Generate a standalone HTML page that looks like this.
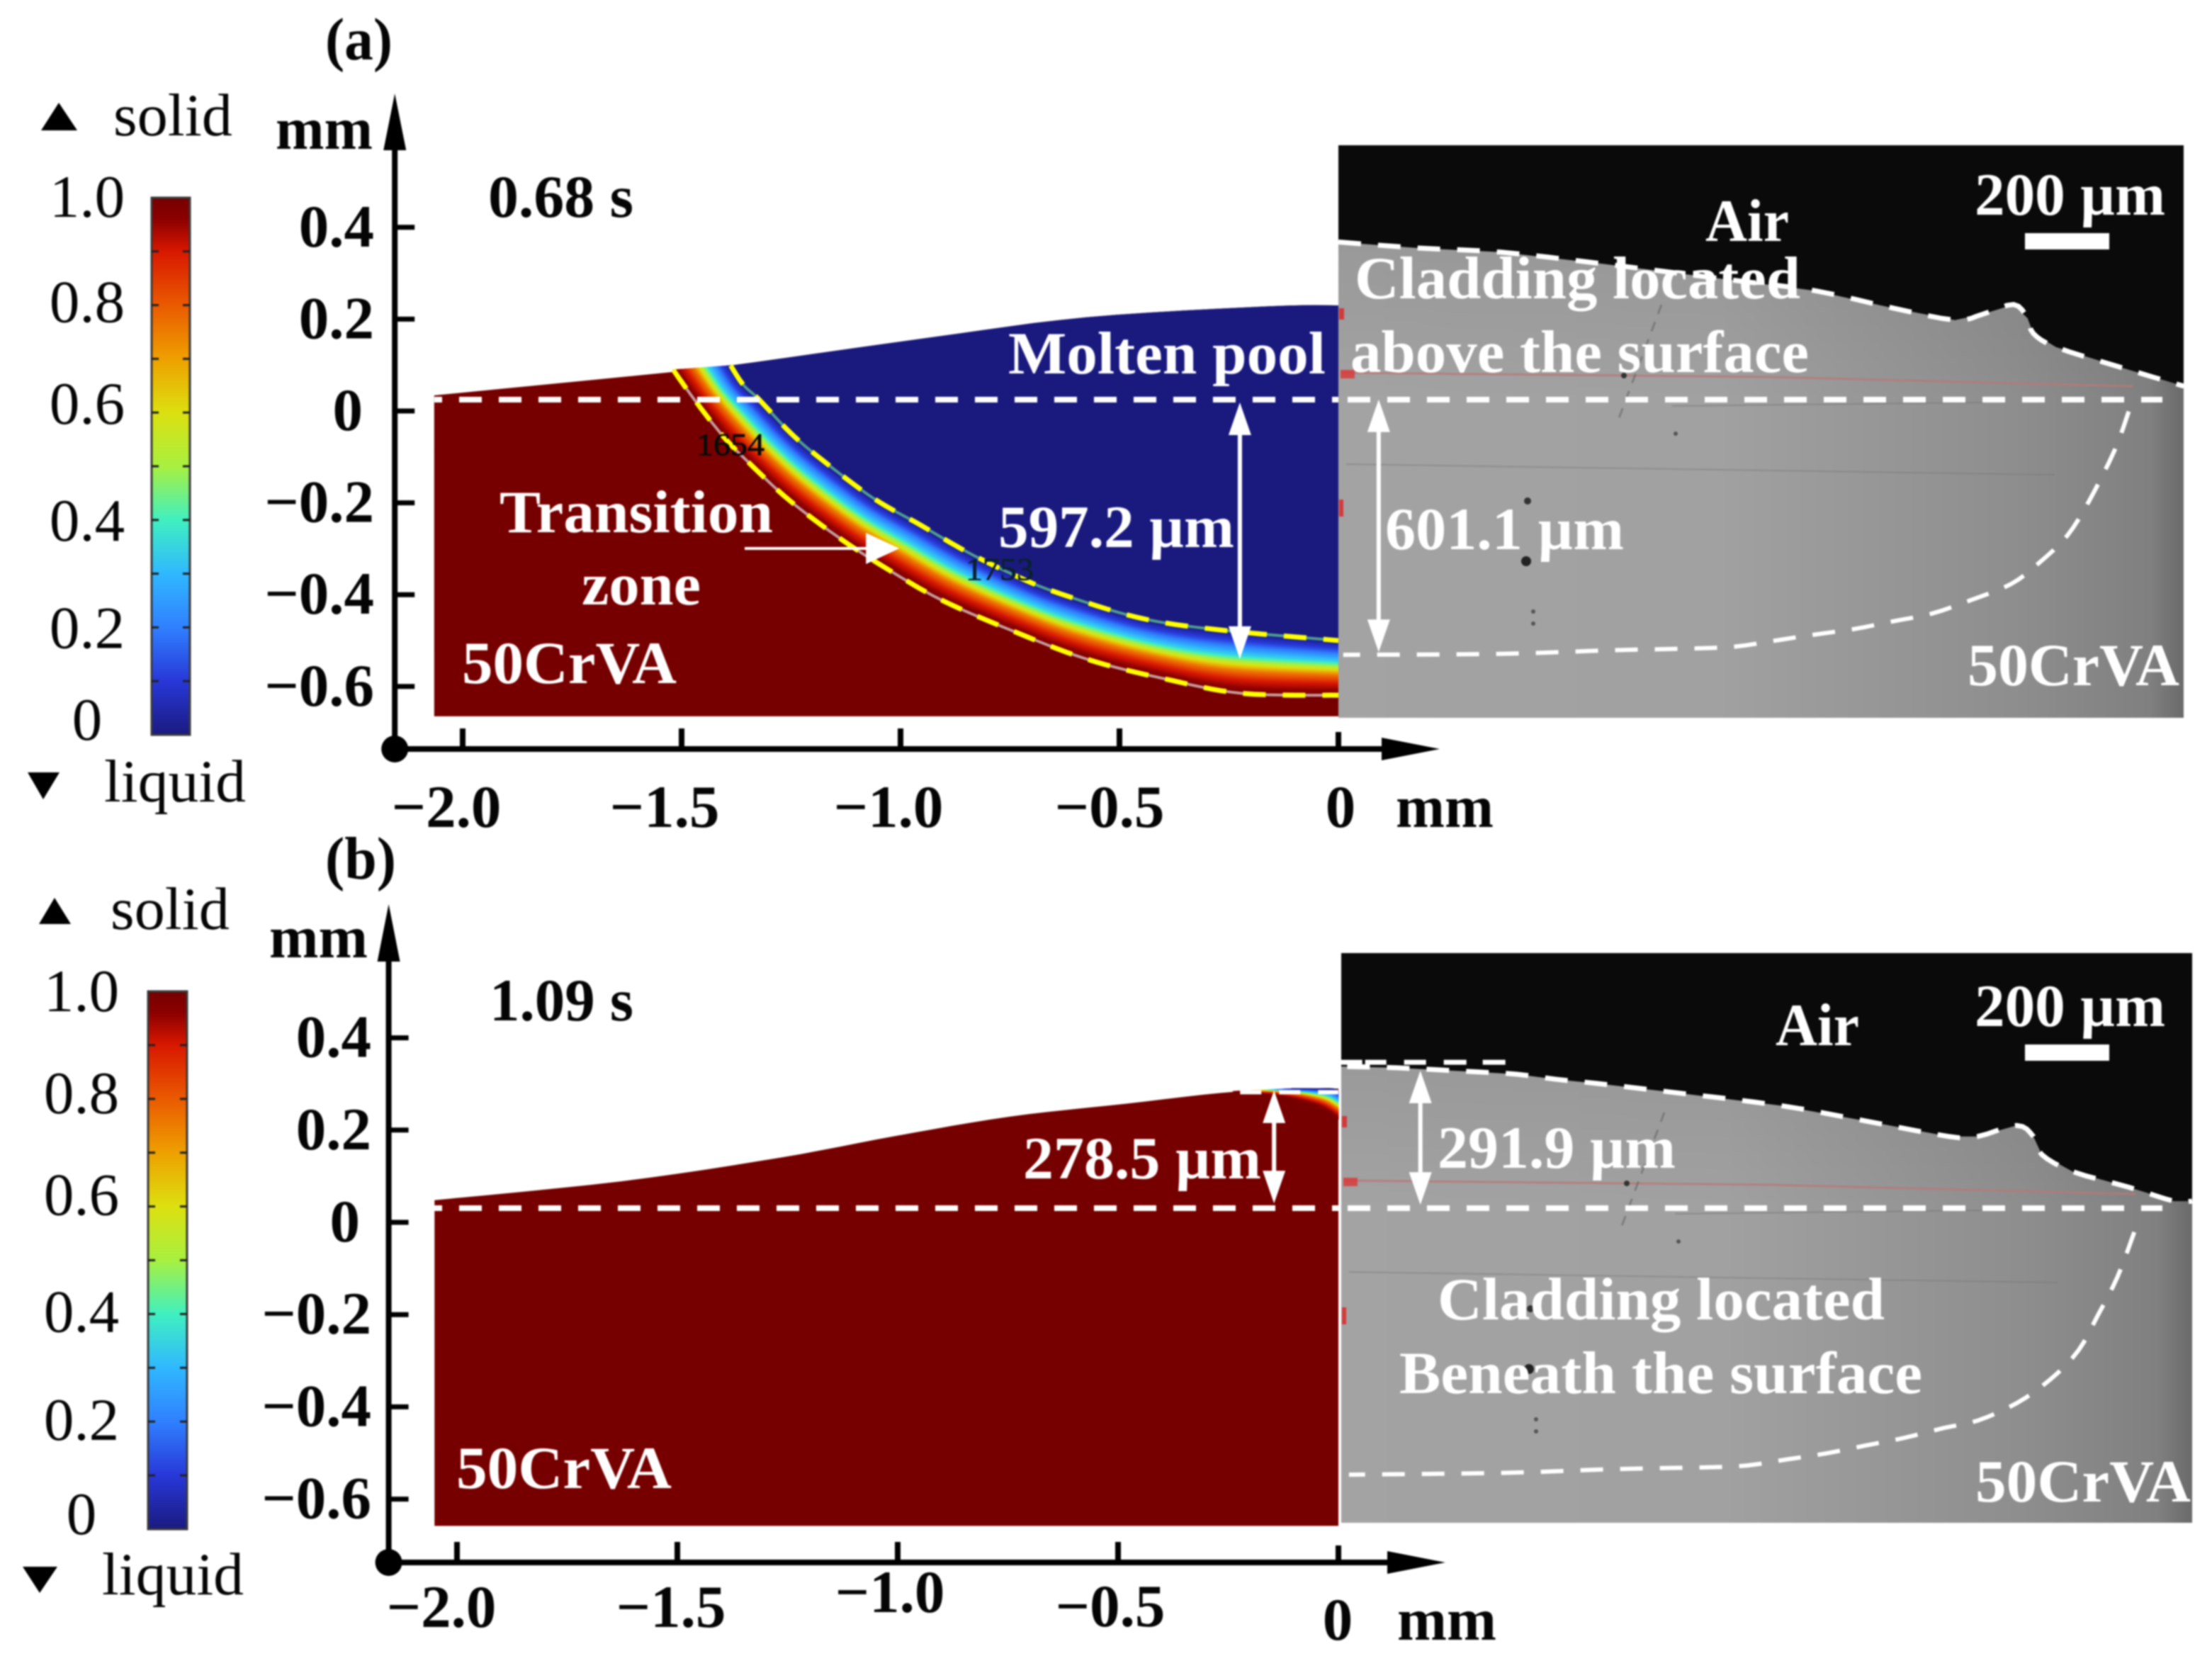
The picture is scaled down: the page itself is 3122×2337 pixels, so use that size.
<!DOCTYPE html>
<html lang="en">
<head>
<meta charset="utf-8">
<title>Cladding melt pool simulation vs experiment</title>
<style>
html,body{margin:0;padding:0;background:#fff;width:3122px;height:2337px;overflow:hidden}
svg{display:block;filter:blur(1.1px)}
text{font-family:"Liberation Serif",serif}
.b{font-weight:bold;font-size:85px}
.r{font-size:85px}
.k{fill:#050505}
.w{fill:#fff}
</style>
</head>
<body>
<svg id="fig" xmlns="http://www.w3.org/2000/svg" width="3122" height="2337" viewBox="0 0 3122 2337">
<defs>
<linearGradient id="cbarGrad" x1="0" y1="1" x2="0" y2="0"></linearGradient>
<linearGradient id="photoGrad" x1="0" y1="0" x2="1" y2="0">
<stop offset="0" stop-color="#a3a3a3"/><stop offset=".45" stop-color="#a1a1a1"/><stop offset=".8" stop-color="#8e8e8e"/><stop offset=".96" stop-color="#808080"/><stop offset="1" stop-color="#6a6a6a"/>
</linearGradient>
<linearGradient id="photoShade" x1="0" y1="0" x2="0" y2="1">
<stop offset="0" stop-color="#000" stop-opacity=".1"/><stop offset=".45" stop-color="#000" stop-opacity="0"/><stop offset="1" stop-color="#000" stop-opacity="0"/>
</linearGradient>
</defs>
<g id="layer-sim"></g>
<g id="layer-photo"></g>
<g id="layer-axes"></g>
<g id="layer-text">
<text class="b k" x="459" y="84" font-size="80" textLength="95" lengthAdjust="spacingAndGlyphs">(a)</text>
<text class="r k" x="160" y="191" textLength="168" lengthAdjust="spacingAndGlyphs">solid</text>
<text class="r k" x="147" y="1131" textLength="200" lengthAdjust="spacingAndGlyphs">liquid</text>
<text class="b k" x="389" y="210" textLength="137" lengthAdjust="spacingAndGlyphs">mm</text>
<text class="b k" x="1970" y="1167" textLength="138" lengthAdjust="spacingAndGlyphs">mm</text>
<text class="b k" x="689" y="306" textLength="205" lengthAdjust="spacingAndGlyphs">0.68 s</text>
<text class="b w" x="705" y="751" textLength="386" lengthAdjust="spacingAndGlyphs">Transition</text>
<text class="b w" x="821" y="853" textLength="168" lengthAdjust="spacingAndGlyphs">zone</text>
<text class="b w" x="652" y="964" textLength="303" lengthAdjust="spacingAndGlyphs">50CrVA</text>
<text class="b w" x="1423" y="527" textLength="448" lengthAdjust="spacingAndGlyphs">Molten pool</text>
<text class="b w" x="1409" y="772" textLength="333" lengthAdjust="spacingAndGlyphs">597.2 µm</text>
<text x="983" y="642" font-size="44" fill="#0a0a0a" stroke="#0a0a0a" stroke-width=".8" textLength="96" lengthAdjust="spacingAndGlyphs">1654</text>
<text x="1363" y="818" font-size="44" fill="#0a2030" stroke="#0a2030" stroke-width=".8" textLength="96" lengthAdjust="spacingAndGlyphs">1753</text>
<text class="b w" x="2407" y="340" textLength="118" lengthAdjust="spacingAndGlyphs">Air</text>
<text class="b w" x="2787" y="303" textLength="269" lengthAdjust="spacingAndGlyphs">200 µm</text>
<text class="b w" x="1912" y="421" textLength="629" lengthAdjust="spacingAndGlyphs">Cladding located</text>
<text class="b w" x="1906" y="525" textLength="647" lengthAdjust="spacingAndGlyphs">above the surface</text>
<text class="b w" x="1955" y="775" textLength="337" lengthAdjust="spacingAndGlyphs">601.1 µm</text>
<text class="b w" x="2777" y="967" textLength="299" lengthAdjust="spacingAndGlyphs">50CrVA</text>

<text class="b k" x="459" y="1240" font-size="80" textLength="100" lengthAdjust="spacingAndGlyphs">(b)</text>
<text class="r k" x="156" y="1311" textLength="168" lengthAdjust="spacingAndGlyphs">solid</text>
<text class="r k" x="144" y="2250" textLength="200" lengthAdjust="spacingAndGlyphs">liquid</text>
<text class="b k" x="380" y="1351" textLength="139" lengthAdjust="spacingAndGlyphs">mm</text>
<text class="b k" x="1972" y="2314" textLength="140" lengthAdjust="spacingAndGlyphs">mm</text>
<text class="b k" x="691" y="1440" textLength="203" lengthAdjust="spacingAndGlyphs">1.09 s</text>
<text class="b w" x="644" y="2100" textLength="304" lengthAdjust="spacingAndGlyphs">50CrVA</text>
<text class="b w" x="1444" y="1663" textLength="336" lengthAdjust="spacingAndGlyphs">278.5 µm</text>
<text class="b w" x="2506" y="1475" textLength="118" lengthAdjust="spacingAndGlyphs">Air</text>
<text class="b w" x="2787" y="1448" textLength="269" lengthAdjust="spacingAndGlyphs">200 µm</text>
<text class="b w" x="2029" y="1648" textLength="336" lengthAdjust="spacingAndGlyphs">291.9 µm</text>
<text class="b w" x="2029" y="1862" textLength="631" lengthAdjust="spacingAndGlyphs">Cladding located</text>
<text class="b w" x="1975" y="1966" textLength="738" lengthAdjust="spacingAndGlyphs">Beneath the surface</text>
<text class="b w" x="2788" y="2119" textLength="304" lengthAdjust="spacingAndGlyphs">50CrVA</text>
</g>
</svg>
<script>
// ---------- chart data (all in mm or fraction solid) ----------
const xTicks = [-2, -1.5, -1, -0.5, 0];
const xTickLabels = ['\u22122.0', '\u22121.5', '\u22121.0', '\u22120.5', '0'];
const yTicks = [0.4, 0.2, 0, -0.2, -0.4, -0.6];
const yTickLabels = ['0.4', '0.2', '0', '\u22120.2', '\u22120.4', '\u22120.6'];
const cbarLabelValues = [1, 0.8, 0.6, 0.4, 0.2, 0];
const cbarTickLabels = ['1.0', '0.8', '0.6', '0.4', '0.2', '0'];
const cbarMinorTicks = [0.9, 0.8, 0.7, 0.6, 0.5, 0.4, 0.3, 0.2, 0.1];
const colormapValues = [0, 0.1, 0.2, 0.3, 0.4, 0.5, 0.6, 0.7, 0.8, 0.9, 0.96, 1];
const colormapColors = ['#1a1a80', '#2838d8', '#3080ff', '#30b8ff', '#40f0c0', '#a8f040', '#dde010', '#eea000', '#ea5a00', '#d81800', '#8c0000', '#760000'];
// fraction solid across the transition zone: position from solidus (0) to liquidus (1)
const bandPositions = [0, 0.07, 0.22, 0.38, 0.47, 0.53, 0.62, 0.84, 1];
const bandSolidFractions = [1, 0.97, 0.9, 0.75, 0.6, 0.5, 0.35, 0.12, 0];

const aSurfaceX = [-2.065, -1.519, -1.388, -0.932, -0.576, -0.16, 0];
const aSurfaceY = [0.034, 0.085, 0.099, 0.16, 0.204, 0.228, 0.23];
const aBlockBottom = -0.665;
const aSolidusX = [-1.519, -1.471, -1.406, -1.347, -1.252, -1.133, -1.027, -0.908, -0.754, -0.576, -0.398, -0.22, 0];
const aSolidusY = [0.0895, 0.025, -0.054, -0.112, -0.196, -0.281, -0.346, -0.411, -0.475, -0.54, -0.583, -0.615, -0.619];
const aLiquidusX = [-1.388, -1.359, -1.323, -1.252, -1.181, -1.062, -0.955, -0.848, -0.73, -0.635, -0.457, -0.279, 0];
const aLiquidusY = [0.099, 0.057, 0.025, -0.047, -0.105, -0.19, -0.248, -0.307, -0.362, -0.398, -0.45, -0.476, -0.5];
const aReferenceY = 0.0247;
const aPhotoSurfaceX = [0, 0.181, 0.37, 0.6, 0.883, 1.088, 1.267, 1.408, 1.472, 1.542, 1.574, 1.587, 1.639, 1.78, 1.931];
const aPhotoSurfaceY = [0.368, 0.355, 0.346, 0.321, 0.287, 0.262, 0.224, 0.198, 0.211, 0.232, 0.202, 0.169, 0.139, 0.097, 0.054];
const aPhotoPoolX = [1.805, 1.773, 1.715, 1.664, 1.6, 1.536, 1.447, 1.356, 1.267, 1.177, 1.087, 0.998, 0.908, 0.818, 0.626, 0.37, 0.011];
const aPhotoPoolY = [-0.001, -0.085, -0.195, -0.272, -0.331, -0.377, -0.411, -0.441, -0.458, -0.475, -0.487, -0.5, -0.513, -0.517, -0.521, -0.529, -0.531];
const aSimDepthArrow = [-0.225, 0.0185, -0.54];
const aPhotoDepthArrow = [0.092, 0.025, -0.525];

const bSurfaceX = [-2.051, -1.627, -1.268, -1.006, -0.746, -0.484, -0.223, 0];
const bSurfaceY = [0.048, 0.089, 0.14, 0.187, 0.229, 0.257, 0.284, 0.29];
const bBlockBottom = -0.658;
const bSolidusX = [-0.24, -0.136, -0.048, 0];
const bSolidusY = [0.284, 0.274, 0.252, 0.224];
const bLiquidusX = [-0.101, -0.048, -0.014, 0];
const bLiquidusY = [0.29, 0.29, 0.29, 0.286];
const bReferenceY = 0.0307;
const bPhotoSurfaceX = [0.007, 0.133, 0.317, 0.405, 0.495, 0.587, 0.749, 1.004, 1.195, 1.386, 1.45, 1.539, 1.577, 1.596, 1.666, 1.794, 1.896, 1.937];
const bPhotoSurfaceY = [0.338, 0.335, 0.326, 0.321, 0.31, 0.301, 0.283, 0.253, 0.22, 0.186, 0.186, 0.21, 0.186, 0.147, 0.11, 0.076, 0.046, 0.046];
const bPhotoFlatDashX = [0.006, 0.38];
const bPhotoFlatDashY = [0.347, 0.347];
const bSimTopDashX = [-0.223, 0];
const bSimTopDashY = [0.282, 0.282];
const bPhotoPoolX = [1.806, 1.768, 1.723, 1.679, 1.615, 1.539, 1.45, 1.373, 1.285, 1.195, 1.106, 1.017, 0.928, 0.838, 0.622, 0.38, 0.024];
const bPhotoPoolY = [-0.021, -0.118, -0.202, -0.278, -0.341, -0.392, -0.43, -0.446, -0.467, -0.484, -0.501, -0.514, -0.527, -0.531, -0.535, -0.543, -0.547];
const bSimDepthArrow = [-0.146, 0.286, 0.041];
const bPhotoDepthArrow = [0.186, 0.329, 0.038];

// ---------- helpers ----------
const NS = 'http://www.w3.org/2000/svg';
const simLayer = document.getElementById('layer-sim');
const photoLayer = document.getElementById('layer-photo');
const axesLayer = document.getElementById('layer-axes');
function make(parent, tag, attrs, text) {
  const el = document.createElementNS(NS, tag);
  for (const k in attrs) el.setAttribute(k, attrs[k]);
  if (text !== undefined) el.textContent = text;
  parent.appendChild(el);
  return el;
}
function hexRgb(h) { return [1, 3, 5].map(i => parseInt(h.substr(i, 2), 16)); }
function colormap(v) {
  for (let i = 1; i < colormapValues.length; i++) {
    if (v <= colormapValues[i]) {
      const t = (v - colormapValues[i - 1]) / (colormapValues[i] - colormapValues[i - 1]);
      const a = hexRgb(colormapColors[i - 1]), b = hexRgb(colormapColors[i]);
      return 'rgb(' + a.map((c, j) => Math.round(c + (b[j] - c) * t)).join(',') + ')';
    }
  }
  return colormapColors[colormapColors.length - 1];
}
function bandValue(t) {
  for (let i = 1; i < bandPositions.length; i++) {
    if (t <= bandPositions[i]) {
      const f = (t - bandPositions[i - 1]) / (bandPositions[i] - bandPositions[i - 1]);
      return bandSolidFractions[i - 1] + (bandSolidFractions[i] - bandSolidFractions[i - 1]) * f;
    }
  }
  return 0;
}
function smooth(xs, ys, steps) {
  const out = [];
  const n = xs.length;
  for (let i = 0; i < n - 1; i++) {
    const i0 = Math.max(0, i - 1), i3 = Math.min(n - 1, i + 2);
    for (let s = 0; s < steps; s++) {
      const t = s / steps, t2 = t * t, t3 = t2 * t;
      const cr = a => 0.5 * (2 * a[i] + (a[i + 1] - a[i0]) * t + (2 * a[i0] - 5 * a[i] + 4 * a[i + 1] - a[i3]) * t2 + (3 * a[i] - a[i0] - 3 * a[i + 1] + a[i3]) * t3);
      out.push([cr(xs), cr(ys)]);
    }
  }
  out.push([xs[n - 1], ys[n - 1]]);
  return out;
}
function toPts(list, sx, sy) {
  return list.map(p => sx(p[0]).toFixed(1) + ',' + sy(p[1]).toFixed(1)).join(' ');
}
function linePts(xs, ys, sx, sy) {
  return xs.map((x, i) => sx(x).toFixed(1) + ',' + sy(ys[i]).toFixed(1)).join(' ');
}

// colour bar gradient from the colormap arrays
const cbarGrad = document.getElementById('cbarGrad');
colormapValues.forEach((v, i) => {
  make(cbarGrad, 'stop', { offset: v, 'stop-color': colormapColors[i] });
});

// ---------- panel renderer ----------
function drawPanel(p) {
  const sx = mm => p.x0 + p.xs * mm;
  const sy = mm => p.y0 - p.ys * mm;
  const surface = smooth(p.surfX, p.surfY, 6);

  // solid block
  const block = make(simLayer, 'polygon', {
    points: toPts(surface, sx, sy) + ' ' + sx(0) + ',' + sy(p.bottom) + ' ' + sx(p.surfX[0]) + ',' + sy(p.bottom),
    fill: '#760000'
  });
  
  

  const outer = smooth(p.solX, p.solY, 8);
  const inner = smooth(p.liqX, p.liqY, 8);

  // liquid region above liquidus
  if (p.hasPool) {
    const top = surface.filter(pt => pt[0] > p.liqX[0]).reverse();
    const pool = make(simLayer, 'polygon', {
      points: toPts(inner, sx, sy) + ' ' + toPts(top, sx, sy),
      fill: '#1a1a7e'
    });
    
    
  }

  // transition-zone colour bands
  const bandGroup = make(simLayer, 'g', {});
  
  
  const bands = 60;
  for (let b = 0; b < bands; b++) {
    const t0 = b / bands, t1 = (b + 1) / bands;
    const mix = (t) => outer.map((o, i) => [o[0] + (inner[i][0] - o[0]) * t, o[1] + (inner[i][1] - o[1]) * t]);
    const col = colormap(bandValue((t0 + t1) / 2));
    make(bandGroup, 'polygon', {
      points: toPts(mix(t0), sx, sy) + ' ' + toPts(mix(t1).reverse(), sx, sy),
      fill: col, stroke: col, 'stroke-width': 1
    });
  }

  // contour lines
  if (p.hasPool) {
    const s1 = make(simLayer, 'polyline', { points: toPts(outer, sx, sy), fill: 'none', stroke: '#c89a9a', 'stroke-width': 4 });
    
    
    const s2 = make(simLayer, 'polyline', { points: toPts(outer, sx, sy), fill: 'none', stroke: '#ffff00', 'stroke-width': 7, 'stroke-dasharray': '32 24' });
    
    
    const l1 = make(simLayer, 'polyline', { points: toPts(inner, sx, sy), fill: 'none', stroke: '#4f9c90', 'stroke-width': 4 });
    
    
    const l2 = make(simLayer, 'polyline', { points: toPts(inner, sx, sy), fill: 'none', stroke: '#ffff00', 'stroke-width': 7, 'stroke-dasharray': '32 24' });
    
    
  }
  if (p.topDashX) {
    const td = make(simLayer, 'polyline', { points: linePts(p.topDashX, p.topDashY, sx, sy), fill: 'none', stroke: '#fff', 'stroke-width': 6, 'stroke-dasharray': '30 25' });
    
    
  }

  // micrograph
  const px0 = p.photo[0], py0 = p.photo[1], pw = p.photo[2], ph = p.photo[3];
  const gray = make(photoLayer, 'rect', { x: px0, y: py0, width: pw, height: ph, fill: 'url(#photoGrad)' });
  
  
  const shade = make(photoLayer, 'rect', { x: px0, y: py0, width: pw, height: ph, fill: 'url(#photoShade)' });
  
  
  const airPts = px0 + ',' + py0 + ' ' + (px0 + pw) + ',' + py0 + ' ' + (px0 + pw) + ',' + sy(p.phSurfY[p.phSurfY.length - 1]).toFixed(1) + ' ' +
    p.phSurfX.slice().reverse().map((x, i) => sx(x).toFixed(1) + ',' + sy(p.phSurfY[p.phSurfY.length - 1 - i]).toFixed(1)).join(' ') + ' ' + px0 + ',' + sy(p.phSurfY[0]).toFixed(1);
  const air = make(photoLayer, 'polygon', { points: airPts, fill: '#0a0a0a' });
  
  

  // micrograph texture
  const tex = make(photoLayer, 'g', {});
  
  
  const dy = py0 - 205, dx = px0 - 1889;
  make(tex, 'polyline', { points: (1892 + dx) + ',' + (526 + dy) + ' 2500,' + (532 + dy) + ' ' + (3010 + dx) + ',' + (545 + dy), fill: 'none', stroke: '#b87878', 'stroke-width': 3, opacity: .8 });
  make(tex, 'polyline', { points: (2345 + dx) + ',' + (430 + dy) + ' ' + (2285 + dx) + ',' + (590 + dy), fill: 'none', stroke: '#666', 'stroke-width': 3, 'stroke-dasharray': '14 12', opacity: .6 });
  make(tex, 'line', { x1: 1900 + dx, y1: 655 + dy, x2: 2900 + dx, y2: 670 + dy, stroke: '#777', 'stroke-width': 2, opacity: .45 });
  make(tex, 'line', { x1: 2360 + dx, y1: 573 + dy, x2: 2800 + dx, y2: 568 + dy, stroke: '#777', 'stroke-width': 2, opacity: .5 });
  make(tex, 'circle', { cx: 2154 + dx, cy: 792 + dy, r: 7, fill: '#222' });
  make(tex, 'circle', { cx: 2156 + dx, cy: 707 + dy, r: 5, fill: '#333' });
  make(tex, 'circle', { cx: 2292 + dx, cy: 530 + dy, r: 4, fill: '#333' });
  make(tex, 'circle', { cx: 2365 + dx, cy: 612 + dy, r: 3, fill: '#555' });
  make(tex, 'circle', { cx: 2164 + dx, cy: 863 + dy, r: 3, fill: '#555' });
  make(tex, 'circle', { cx: 2164 + dx, cy: 880 + dy, r: 3, fill: '#555' });
  make(tex, 'rect', { x: 1890 + dx, y: 435 + dy, width: 7, height: 16, fill: '#e02020', opacity: .8 });
  make(tex, 'rect', { x: 1892 + dx, y: 522 + dy, width: 20, height: 12, fill: '#e03030', opacity: .75 });
  make(tex, 'rect', { x: 1890 + dx, y: 705 + dy, width: 6, height: 24, fill: '#e02020', opacity: .8 });

  const surfDash = make(photoLayer, 'polyline', { points: toPts(smooth(p.phSurfX, p.phSurfY, 4), sx, sy), fill: 'none', stroke: '#fff', 'stroke-width': 7, 'stroke-dasharray': '32 24', 'stroke-dashoffset': p.surfDashOffset });
  
  
  if (p.flatDashX) {
    const fd = make(photoLayer, 'polyline', { points: linePts(p.flatDashX, p.flatDashY, sx, sy), fill: 'none', stroke: '#fff', 'stroke-width': 7, 'stroke-dasharray': '30 4 30 25 31 25 32 23 32 100' });
    
    
  }
  const poolDash = make(photoLayer, 'polyline', { points: toPts(smooth(p.phPoolX, p.phPoolY, 4), sx, sy), fill: 'none', stroke: '#fff', 'stroke-width': 6, 'stroke-dasharray': '32 24' });
  
  

  // reference lines
  const ry = sy(p.refY);
  const ref1 = make(photoLayer, 'line', { x1: 613, y1: ry, x2: sx(0), y2: ry, stroke: '#fff', 'stroke-width': 8, 'stroke-dasharray': '32 24', 'stroke-dashoffset': 21 });
  
  
  const ref2 = make(photoLayer, 'line', { x1: 1902, y1: ry, x2: 3052, y2: ry, stroke: '#fff', 'stroke-width': 8, 'stroke-dasharray': '32 24' });
  
  

  // depth arrows
  [p.simArrow, p.photoArrow].forEach((a) => {
    const g = make(photoLayer, 'g', {});
    
    
    const x = sx(a[0]), t = sy(a[1]), b = sy(a[2]);
    make(g, 'line', { x1: x, y1: t + 20, x2: x, y2: b - 20, stroke: '#fff', 'stroke-width': 6 });
    make(g, 'polygon', { points: x + ',' + t + ' ' + (x - 16) + ',' + (t + 46) + ' ' + (x + 16) + ',' + (t + 46), fill: '#fff' });
    make(g, 'polygon', { points: x + ',' + b + ' ' + (x - 16) + ',' + (b - 46) + ' ' + (x + 16) + ',' + (b - 46), fill: '#fff' });
  });

  // scale bar
  const bar = make(photoLayer, 'rect', { x: 2858, y: p.scaleY, width: 119, height: 23, fill: '#fff' });
  
  

  // axes
  const ax = sx(p.axisXmm);
  const yAxis = make(axesLayer, 'line', { x1: ax, y1: p.arrowBase, x2: ax, y2: p.axisY, stroke: '#000', 'stroke-width': 8 });
  
  
  const yHead = make(axesLayer, 'polygon', { points: ax + ',' + p.arrowTip + ' ' + (ax - 16) + ',' + p.arrowBase + ' ' + (ax + 16) + ',' + p.arrowBase, fill: '#000' });
  
  
  const xAxis = make(axesLayer, 'line', { x1: ax, y1: p.axisY, x2: p.xArrowBase, y2: p.axisY, stroke: '#000', 'stroke-width': 8 });
  
  
  const xHead = make(axesLayer, 'polygon', { points: p.xArrowTip + ',' + p.axisY + ' ' + p.xArrowBase + ',' + (p.axisY - 16) + ' ' + p.xArrowBase + ',' + (p.axisY + 16), fill: '#000' });
  
  
  const origin = make(axesLayer, 'circle', { cx: ax, cy: p.axisY, r: 19, fill: '#000' });
  
  

  xTicks.forEach((v, i) => {
    const x = sx(v);
    const tick = make(axesLayer, 'line', { x1: x, y1: p.axisY - (v === 0 ? 24 : 29), x2: x, y2: p.axisY, stroke: '#000', 'stroke-width': 8 });
    
    
    const label = make(axesLayer, 'text', { x: x + p.xLabelDx[i], y: p.xLabelBase[i], 'text-anchor': 'middle', class: 'b k' }, xTickLabels[i]);
    
    
  });
  yTicks.forEach((v, i) => {
    const y = sy(v);
    const tick = make(axesLayer, 'line', { x1: ax, y1: y, x2: ax + 28, y2: y, stroke: '#000', 'stroke-width': 7 });
    
    
    const label = make(axesLayer, 'text', { x: p.yLabelX - (v === 0 ? 16 : 0), y: y + 27, 'text-anchor': 'end', class: 'b k' }, yTickLabels[i]);
    
    
  });

  // colour bar
  const c = p.cbar;
  const cy = v => c.bottom - (c.bottom - c.top) * v;
  const rect = make(axesLayer, 'rect', { x: c.x, y: c.top, width: c.w, height: c.bottom - c.top, fill: 'url(#cbarGrad)', stroke: '#3a3a3a', 'stroke-width': 3 });
  
  
  cbarMinorTicks.forEach((v) => {
    const l = make(axesLayer, 'line', { x1: c.x, y1: cy(v), x2: c.x + 10, y2: cy(v), stroke: '#222', 'stroke-width': 3 });
    
    
    const r = make(axesLayer, 'line', { x1: c.x + c.w - 10, y1: cy(v), x2: c.x + c.w, y2: cy(v), stroke: '#222', 'stroke-width': 3 });
    
    
  });
  cbarLabelValues.forEach((v, i) => {
    const t = make(axesLayer, 'text', { x: c.labelX, y: cy(v) + c.labelDy[i], 'text-anchor': 'middle', class: 'r k' }, cbarTickLabels[i]);
    
    
  });
  const up = make(axesLayer, 'polygon', { points: p.triUp, fill: '#000' });
  
  
  const down = make(axesLayer, 'polygon', { points: p.triDown, fill: '#000' });
  
  
}

drawPanel({
  x0: 1889, xs: 618, y0: 580, ys: 648, axisXmm: -2.155, axisY: 1057,
  surfX: aSurfaceX, surfY: aSurfaceY, bottom: aBlockBottom,
  solX: aSolidusX, solY: aSolidusY, liqX: aLiquidusX, liqY: aLiquidusY, hasPool: true,
  refY: aReferenceY, phSurfX: aPhotoSurfaceX, phSurfY: aPhotoSurfaceY, phPoolX: aPhotoPoolX, phPoolY: aPhotoPoolY,
  simArrow: aSimDepthArrow, photoArrow: aPhotoDepthArrow, surfDashOffset: 0,
  photo: [1889, 205, 1193, 808], scaleY: 329,
  arrowTip: 132, arrowBase: 212, xArrowTip: 2032, xArrowBase: 1950,
  xLabelDx: [-23, -24, -17, -14, 3], xLabelBase: [1167, 1167, 1167, 1167, 1167], yLabelX: 528,
  cbar: { x: 214, w: 54, top: 279, bottom: 1037, labelX: 123, labelDy: [27, 24, 16, 29, 29, 7] },
  triUp: '83,145 58,184 109,184', triDown: '39,1090 84,1090 61,1128'
});
drawPanel({
  x0: 1889, xs: 622, y0: 1725, ys: 651, axisXmm: -2.155, axisY: 2205,
  surfX: bSurfaceX, surfY: bSurfaceY, bottom: bBlockBottom,
  solX: bSolidusX, solY: bSolidusY, liqX: bLiquidusX, liqY: bLiquidusY, hasPool: false,
  topDashX: bSimTopDashX, topDashY: bSimTopDashY,
  flatDashX: bPhotoFlatDashX, flatDashY: bPhotoFlatDashY,
  refY: bReferenceY, phSurfX: bPhotoSurfaceX, phSurfY: bPhotoSurfaceY, phPoolX: bPhotoPoolX, phPoolY: bPhotoPoolY,
  simArrow: bSimDepthArrow, photoArrow: bPhotoDepthArrow, surfDashOffset: 48,
  photo: [1893, 1345, 1201, 804], scaleY: 1474,
  arrowTip: 1276, arrowBase: 1357, xArrowTip: 2040, xArrowBase: 1958,
  xLabelDx: [-22, -9, -11, -11, -1], xLabelBase: [2296, 2296, 2275, 2295, 2314], yLabelX: 524,
  cbar: { x: 209, w: 55, top: 1399, bottom: 2158, labelX: 115, labelDy: [28, 20, 12, 25, 26, 7] },
  triUp: '77,1267 55,1304 100,1304', triDown: '32,2211 81,2211 56,2248'
});

// transition-zone pointer arrow in panel (a)
const transitionPointerX = [-1.356, -1.053];
const pointerG = make(photoLayer, 'g', {});


const px1 = 1889 + 618 * transitionPointerX[0], px2 = 1889 + 618 * transitionPointerX[1];
make(pointerG, 'line', { x1: px1, y1: 774, x2: px2, y2: 774, stroke: '#fff', 'stroke-width': 4 });
make(pointerG, 'polygon', { points: (px2 + 31) + ',774 ' + (px2 - 16) + ',752 ' + (px2 - 16) + ',796', fill: '#fff' });
</script>
</body>
</html>
